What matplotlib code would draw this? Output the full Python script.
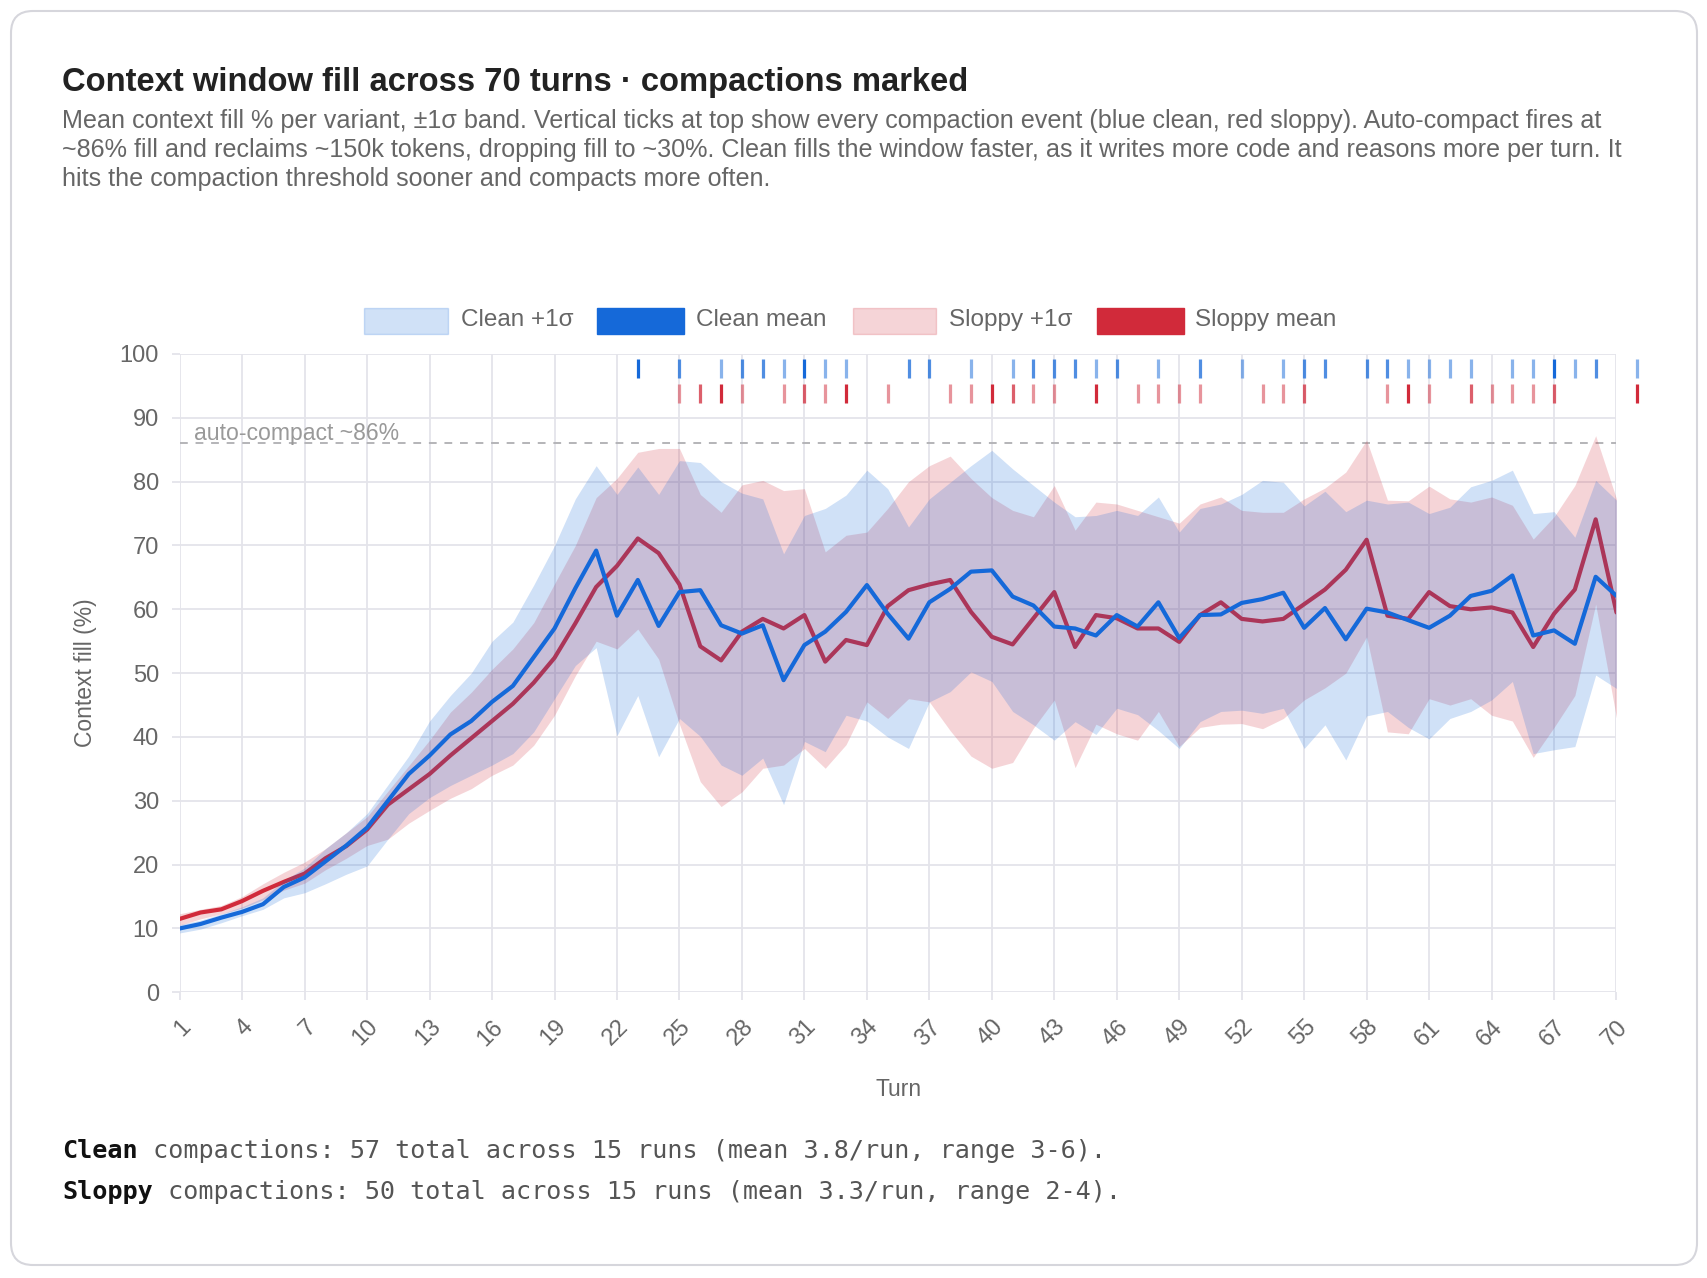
import numpy as np
import matplotlib.pyplot as plt
import matplotlib.patches as mpatches
from matplotlib.transforms import IdentityTransform
from matplotlib.colors import to_rgba

# --- data ---
turns = list(range(1, 71))

clean_mean = [
    10.0, 10.7, 11.7, 12.6, 13.8, 16.5, 18.0, 20.5, 23.0, 25.8,
    30.0, 34.2, 37.1, 40.4, 42.5, 45.5, 48.0, 52.5, 57.0, 63.3,
    69.2, 59.0, 64.6, 57.4, 62.7, 63.0, 57.5, 56.2, 57.5, 48.9,
    54.4, 56.5, 59.6, 63.8, 59.3, 55.4, 61.1, 63.2, 65.9, 66.1,
    62.0, 60.6, 57.3, 57.0, 55.9, 59.1, 57.3, 61.1, 55.5, 59.1,
    59.2, 61.0, 61.6, 62.6, 57.1, 60.2, 55.3, 60.1, 59.5, 58.3,
    57.1, 59.0, 62.1, 62.9, 65.3, 55.9, 56.7, 54.6, 65.1, 62.1]
clean_hi = [
    10.6, 11.3, 12.3, 13.4, 14.8, 17.5, 19.5, 22.5, 25.0, 28.0,
    32.5, 37.0, 42.5, 46.5, 50.0, 55.0, 58.0, 63.8, 70.0, 77.3,
    82.5, 78.0, 82.3, 78.0, 83.3, 83.0, 80.0, 78.2, 77.3, 68.7,
    74.7, 75.8, 77.9, 81.8, 78.9, 72.9, 77.3, 79.9, 82.5, 84.9,
    82.0, 79.4, 76.8, 74.5, 74.7, 75.5, 74.7, 77.6, 72.1, 75.8,
    76.5, 78.0, 80.2, 79.9, 76.2, 78.5, 75.3, 77.1, 76.5, 76.8,
    75.0, 76.0, 79.2, 80.2, 81.8, 75.0, 75.3, 71.3, 80.2, 77.1]
clean_lo = [
    9.3, 9.9, 10.9, 12.0, 13.0, 14.8, 15.6, 17.0, 18.5, 19.8,
    24.0, 28.0, 30.5, 32.4, 34.0, 35.6, 37.4, 40.8, 46.0, 51.2,
    54.0, 40.2, 46.5, 36.9, 42.9, 40.1, 35.6, 34.0, 36.7, 29.4,
    39.3, 37.7, 43.4, 42.5, 40.0, 38.2, 45.5, 47.1, 50.2, 48.7,
    44.0, 41.9, 39.5, 42.4, 40.4, 44.5, 43.5, 41.0, 38.2, 42.4,
    44.0, 44.2, 43.7, 44.5, 38.2, 41.9, 36.4, 43.3, 44.0, 41.5,
    39.7, 42.9, 44.0, 45.8, 48.7, 37.4, 38.0, 38.5, 49.7, 47.6]

sloppy_mean = [
    11.5, 12.5, 13.0, 14.3, 15.9, 17.3, 18.6, 21.0, 22.9, 25.5,
    29.4, 31.8, 34.2, 37.1, 39.8, 42.5, 45.2, 48.5, 52.4, 57.8,
    63.5, 66.8, 71.1, 68.8, 63.9, 54.2, 52.0, 56.5, 58.5, 57.0,
    59.1, 51.8, 55.2, 54.4, 60.5, 63.0, 63.9, 64.6, 59.6, 55.7,
    54.5, 58.6, 62.7, 54.1, 59.1, 58.6, 57.0, 57.0, 54.9, 59.1,
    61.1, 58.5, 58.1, 58.5, 60.8, 63.1, 66.2, 70.9, 59.0, 58.5,
    62.7, 60.5, 60.0, 60.3, 59.5, 54.1, 59.3, 63.1, 74.1, 59.5]
sloppy_hi = [
    12.3, 13.0, 13.6, 15.0, 17.0, 18.8, 20.4, 22.5, 25.0, 27.5,
    31.5, 35.5, 39.5, 43.9, 47.0, 50.6, 53.8, 57.9, 64.0, 70.0,
    77.5, 80.5, 84.6, 85.2, 85.2, 78.0, 75.2, 79.5, 80.2, 78.6,
    78.9, 69.0, 71.6, 72.1, 75.8, 80.0, 82.5, 84.0, 80.5, 77.5,
    75.5, 74.5, 79.4, 72.4, 76.8, 76.5, 75.5, 74.5, 73.5, 76.5,
    77.6, 75.5, 75.2, 75.2, 77.3, 79.0, 81.5, 86.5, 77.1, 77.0,
    79.3, 77.3, 76.8, 77.6, 76.3, 71.0, 74.5, 79.4, 87.2, 77.3]
sloppy_lo = [
    10.5, 11.5, 12.3, 13.2, 14.5, 16.0, 17.1, 19.2, 21.0, 23.0,
    24.0, 26.5, 28.5, 30.4, 31.9, 34.0, 35.6, 38.7, 43.4, 49.6,
    55.0, 53.8, 56.9, 52.2, 42.0, 33.0, 29.1, 31.4, 35.1, 35.6,
    38.2, 35.1, 38.8, 45.5, 42.9, 46.0, 45.5, 41.0, 37.0, 35.1,
    36.0, 41.4, 45.8, 35.2, 42.0, 40.5, 39.5, 44.0, 38.5, 41.5,
    42.0, 42.1, 41.3, 42.9, 45.8, 47.7, 50.0, 55.7, 40.8, 40.5,
    46.0, 45.0, 46.0, 43.4, 42.5, 36.8, 41.5, 46.5, 60.8, 43.0]

# compaction events: turn and number of runs compacting at that turn
clean_comp_turns = [23, 25, 27, 28, 29, 30, 31, 32, 33, 36, 37, 39, 41, 42, 43, 44, 45, 46,
                    48, 50, 52, 54, 55, 56, 58, 59, 60, 61, 62, 63, 65, 66, 67, 68, 69, 71]
clean_comp_counts = [3, 2, 1, 2, 2, 1, 3, 1, 1, 2, 2, 1, 1, 2, 2, 2, 1, 2,
                     1, 2, 1, 1, 2, 2, 2, 2, 1, 1, 1, 1, 1, 1, 3, 1, 2, 1]
sloppy_comp_turns = [25, 26, 27, 28, 30, 31, 32, 33, 35, 38, 39, 40, 41, 42, 43, 45,
                     47, 48, 49, 50, 53, 54, 55, 59, 60, 61, 63, 64, 65, 66, 67, 71]
sloppy_comp_counts = [1, 2, 3, 1, 1, 2, 1, 3, 1, 1, 1, 3, 2, 1, 1, 3,
                      1, 1, 1, 1, 1, 1, 2, 1, 3, 1, 2, 1, 1, 1, 2, 3]

title = "Context window fill across 70 turns \u00b7 compactions marked"
subtitle = [
    "Mean context fill % per variant, \u00b11\u03c3 band. Vertical ticks at top show every compaction event (blue clean, red sloppy). Auto-compact fires at",
    "~86% fill and reclaims ~150k tokens, dropping fill to ~30%. Clean fills the window faster, as it writes more code and reasons more per turn. It",
    "hits the compaction threshold sooner and compacts more often.",
]
footer = [
    ("Clean", " compactions: 57 total across 15 runs (mean 3.8/run, range 3-6)."),
    ("Sloppy", " compactions: 50 total across 15 runs (mean 3.3/run, range 2-4)."),
]

BLUE = "#1569d9"
RED = "#d12a3a"
GRID = "#e4e4ea"
SANS = ["Liberation Sans", "DejaVu Sans"]

W, H = 1708, 1278
fig = plt.figure(figsize=(W / 100, H / 100), dpi=100)
fig.patch.set_facecolor("white")


def fx(px):
    return px / W


def fy(py):
    return 1 - py / H


renderer = fig.canvas.get_renderer()


def fit(t, target_px):
    bb = t.get_window_extent(renderer=renderer)
    t.set_fontsize(t.get_fontsize() * target_px / bb.width)


# card outline (behind everything)
card = mpatches.FancyBboxPatch((11, H - 1265), 1686, 1254,
                               boxstyle="round,pad=0,rounding_size=22",
                               transform=IdentityTransform(),
                               facecolor="none", edgecolor="#d6d6dc", lw=1.5, zorder=-5)
fig.add_artist(card)

# header
t = fig.text(fx(62), fy(82), title, fontsize=20, fontweight="bold", color="#222222",
             family=SANS, va="center", ha="left")
fit(t, 905)
sub_y = [121, 150, 179]
sub_w = [1540, 1562, None]
sub_texts = []
sizes = []
for i, line in enumerate(subtitle):
    t = fig.text(fx(62), fy(sub_y[i]), line, fontsize=15, color="#666666",
                 family=SANS, va="center", ha="left")
    sub_texts.append(t)
    if sub_w[i]:
        fit(t, sub_w[i])
        sizes.append(t.get_fontsize())
for tt in sub_texts:
    tt.set_fontsize(sum(sizes) / len(sizes))

# legend
leg = [
    ("Clean +1\u03c3", 364, 448, to_rgba(BLUE, 0.2), 461),
    ("Clean mean", 597, 684, to_rgba(BLUE, 1.0), 696),
    ("Sloppy +1\u03c3", 853, 936, to_rgba(RED, 0.2), 949),
    ("Sloppy mean", 1097, 1184, to_rgba(RED, 1.0), 1195),
]
for label, x0, x1, col, tx in leg:
    fig.add_artist(mpatches.Rectangle((x0, H - 334), x1 - x0, 26, transform=IdentityTransform(),
                                      facecolor=col, edgecolor=col, lw=1))
    fig.text(fx(tx), fy(320), label, fontsize=17.5, color="#666666", family=SANS,
             va="center", ha="left")

# plot area
ax = fig.add_axes([fx(179.7), fy(992.3), (1616.5 - 179.7) / W, (992.3 - 354.0) / H])
ax.set_xlim(1, 70)
ax.set_ylim(0, 100)
for s in ax.spines.values():
    s.set_visible(False)
ax.set_xticks(range(1, 71, 3))
ax.set_yticks(range(0, 101, 10))
ax.grid(True, color=GRID, lw=1.3)
ax.set_axisbelow(True)
ax.tick_params(axis="both", length=6, width=1.3, color=GRID, labelcolor="#666666", labelsize=17)
ax.tick_params(axis="y", pad=9)
ax.tick_params(axis="x", pad=11)
for lab in ax.get_xticklabels():
    lab.set_rotation(45)
    lab.set_ha("right")
    lab.set_va("top")
    lab.set_rotation_mode("anchor")
    lab.set_family(SANS)
for lab in ax.get_yticklabels():
    lab.set_family(SANS)

# bands and means: sloppy first, clean on top
ax.fill_between(turns, sloppy_lo, sloppy_hi, color=RED, alpha=0.2, lw=0, zorder=2)
ax.plot(turns, sloppy_mean, color=RED, lw=3.0, zorder=3,
        solid_joinstyle="round", solid_capstyle="round")
ax.fill_between(turns, clean_lo, clean_hi, color=BLUE, alpha=0.2, lw=0, zorder=4)
ax.plot(turns, clean_mean, color=BLUE, lw=3.0, zorder=5,
        solid_joinstyle="round", solid_capstyle="round")

# auto-compact threshold
ax.axhline(86, color="#b4b4b8", lw=1.4, ls=(0, (4, 4)), zorder=1)
ax.text(1.7, 86.6, "auto-compact ~86%", fontsize=16.6, color="#999999", family=SANS,
        va="baseline", ha="left", zorder=6)

# compaction ticks
alpha_of = {1: 0.5, 2: 0.75, 3: 1.0}
ax.vlines(clean_comp_turns, 96.3, 99.2,
          colors=[to_rgba(BLUE, alpha_of[c]) for c in clean_comp_counts],
          lw=2.3, clip_on=False, zorder=6)
ax.vlines(sloppy_comp_turns, 92.4, 95.3,
          colors=[to_rgba(RED, alpha_of[c]) for c in sloppy_comp_counts],
          lw=2.3, clip_on=False, zorder=6)

ax.set_xlabel("Turn", fontsize=16.5, color="#666666", family=SANS, labelpad=20)
ax.set_ylabel("Context fill (%)", fontsize=16.5, color="#666666", family=SANS, labelpad=16)

# footer in monospace
fsize = 18.1
charw = 0.602 * fsize * 100 / 72
for i, (bold, rest) in enumerate(footer):
    yy = fy(1151 + i * 41)
    fig.text(fx(62), yy, bold, fontsize=fsize, fontweight="bold", color="#111111",
             family="DejaVu Sans Mono", va="center", ha="left")
    fig.text(fx(62 + len(bold) * charw), yy, rest, fontsize=fsize, color="#555555",
             family="DejaVu Sans Mono", va="center", ha="left")

fig.savefig("out.png", dpi=100, facecolor="white")
